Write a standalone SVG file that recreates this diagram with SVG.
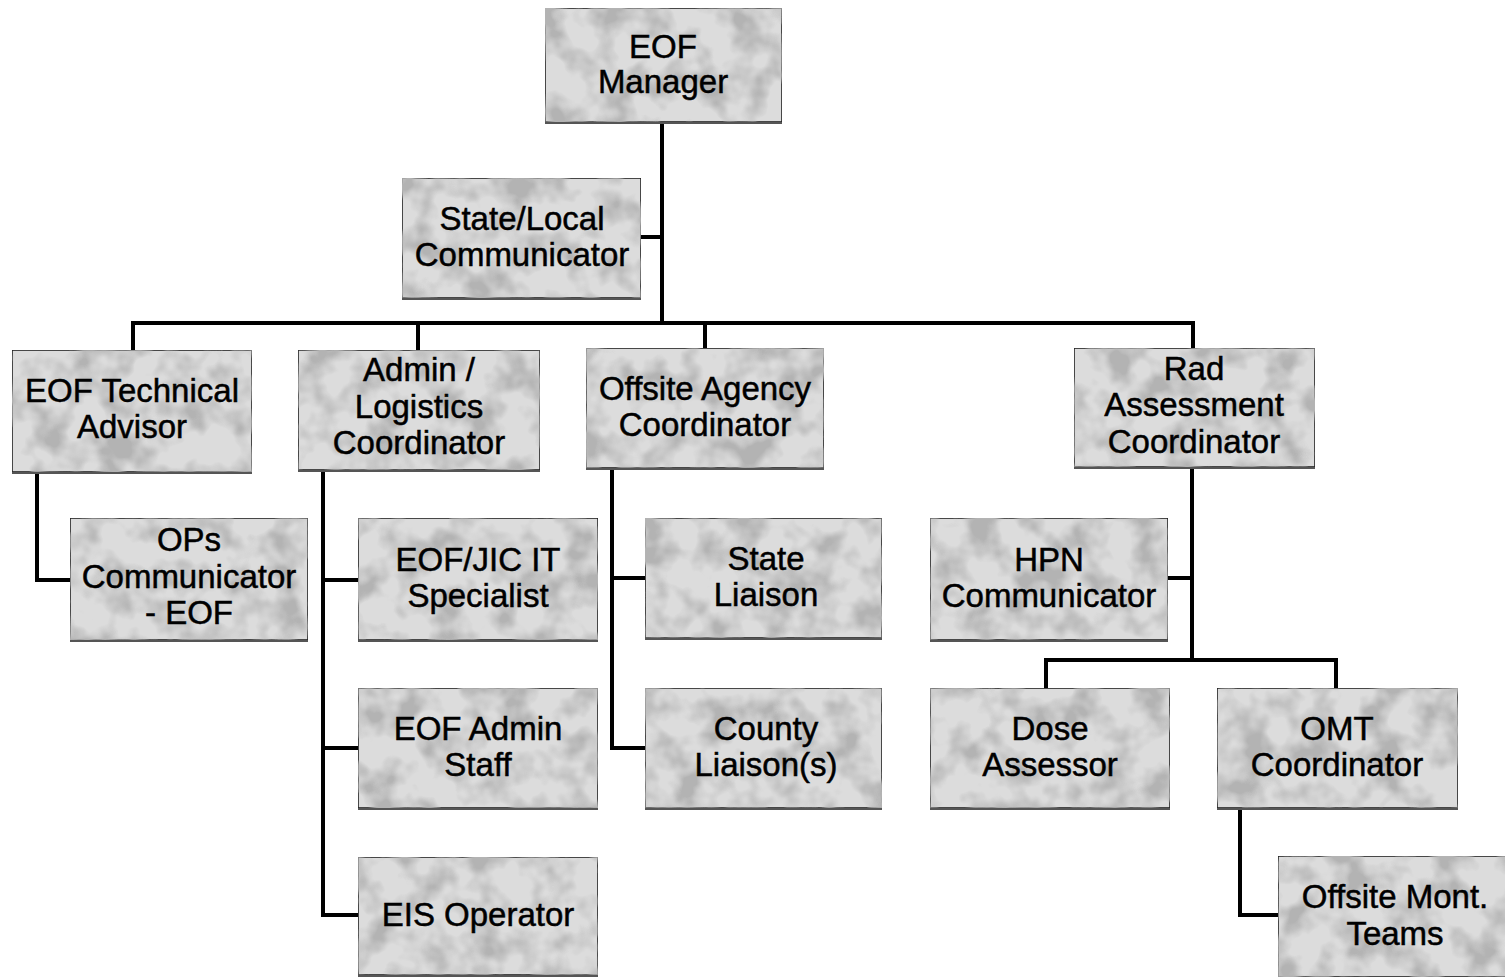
<svg xmlns="http://www.w3.org/2000/svg" width="1505" height="979" viewBox="0 0 1505 979">
  <defs>
    <!-- mottled grey fill for the position boxes -->
    <filter id="mottle" x="0" y="0" width="100%" height="100%">
      <feTurbulence type="fractalNoise" baseFrequency="0.03" numOctaves="3" seed="7" result="noise"/>
      <feColorMatrix in="noise" type="matrix" values="0 0 0 0 0.45  0 0 0 0 0.45  0 0 0 0 0.45  3.2 0 0 0 -1.35" result="blots"/>
      <feComposite in="blots" in2="SourceGraphic" operator="in" result="clipped"/>
      <feMerge>
        <feMergeNode in="SourceGraphic"/>
        <feMergeNode in="clipped"/>
      </feMerge>
    </filter>
    <style>
      .box { fill: #dcdcdc; stroke: #222; stroke-width: 1.6; filter: url(#mottle); }
      .shadow { stroke: #555; stroke-width: 2; fill: none; }
      .lbl { font-family: "Liberation Sans", Arial, sans-serif; font-size: 33px; fill: #000; stroke: #000; stroke-width: 0.5; text-anchor: middle; }
      .wire { fill: none; stroke: #000; stroke-width: 4; stroke-linejoin: miter; stroke-linecap: butt; }
    </style>
  </defs>

  <rect width="1505" height="979" fill="#fff"/>

  <g id="connectors">
    <path class="wire" d="M662 122 V323"/>
    <path class="wire" d="M641 237 H664"/>
    <path class="wire" d="M133 350 V323 H1193 V348"/>
    <path class="wire" d="M418 323 V350"/>
    <path class="wire" d="M705 323 V348"/>
    <path class="wire" d="M37 472 V580 H70"/>
    <path class="wire" d="M323 470 V915 H358"/>
    <path class="wire" d="M323 580 H358"/>
    <path class="wire" d="M323 748 H358"/>
    <path class="wire" d="M612 468 V748 H645"/>
    <path class="wire" d="M612 578 H645"/>
    <path class="wire" d="M1192 467 V660"/>
    <path class="wire" d="M1168 578 H1194"/>
    <path class="wire" d="M1046 688 V660 H1336 V688"/>
    <path class="wire" d="M1240 808 V915 H1278"/>
  </g>

  <g id="eof-manager">
    <rect class="box" x="545" y="8" width="237" height="114"/>
    <line class="shadow" x1="545" y1="123" x2="782" y2="123"/>
    <text class="lbl" x="663" y="58">EOF</text>
    <text class="lbl" x="663" y="93">Manager</text>
  </g>

  <g id="state-local-communicator">
    <rect class="box" x="402" y="178" width="239" height="120"/>
    <line class="shadow" x1="402" y1="299" x2="641" y2="299"/>
    <text class="lbl" x="522" y="230">State/Local</text>
    <text class="lbl" x="522" y="266">Communicator</text>
  </g>

  <g id="eof-technical-advisor">
    <rect class="box" x="12" y="350" width="240" height="122"/>
    <line class="shadow" x1="12" y1="473" x2="252" y2="473"/>
    <text class="lbl" x="132" y="402">EOF Technical</text>
    <text class="lbl" x="132" y="438">Advisor</text>
  </g>

  <g id="admin-logistics-coordinator">
    <rect class="box" x="298" y="350" width="242" height="120"/>
    <line class="shadow" x1="298" y1="471" x2="540" y2="471"/>
    <text class="lbl" x="419" y="381">Admin /</text>
    <text class="lbl" x="419" y="418">Logistics</text>
    <text class="lbl" x="419" y="454">Coordinator</text>
  </g>

  <g id="offsite-agency-coordinator">
    <rect class="box" x="586" y="348" width="238" height="120"/>
    <line class="shadow" x1="586" y1="469" x2="824" y2="469"/>
    <text class="lbl" x="705" y="400">Offsite Agency</text>
    <text class="lbl" x="705" y="436">Coordinator</text>
  </g>

  <g id="rad-assessment-coordinator">
    <rect class="box" x="1074" y="348" width="241" height="119"/>
    <line class="shadow" x1="1074" y1="468" x2="1315" y2="468"/>
    <text class="lbl" x="1194" y="380">Rad</text>
    <text class="lbl" x="1194" y="416">Assessment</text>
    <text class="lbl" x="1194" y="453">Coordinator</text>
  </g>

  <g id="ops-communicator">
    <rect class="box" x="70" y="518" width="238" height="122"/>
    <line class="shadow" x1="70" y1="641" x2="308" y2="641"/>
    <text class="lbl" x="189" y="551">OPs</text>
    <text class="lbl" x="189" y="588">Communicator</text>
    <text class="lbl" x="189" y="624">- EOF</text>
  </g>

  <g id="eof-jic-it-specialist">
    <rect class="box" x="358" y="518" width="240" height="122"/>
    <line class="shadow" x1="358" y1="641" x2="598" y2="641"/>
    <text class="lbl" x="478" y="571">EOF/JIC IT</text>
    <text class="lbl" x="478" y="607">Specialist</text>
  </g>

  <g id="eof-admin-staff">
    <rect class="box" x="358" y="688" width="240" height="120"/>
    <line class="shadow" x1="358" y1="809" x2="598" y2="809"/>
    <text class="lbl" x="478" y="740">EOF Admin</text>
    <text class="lbl" x="478" y="776">Staff</text>
  </g>

  <g id="eis-operator">
    <rect class="box" x="358" y="857" width="240" height="118"/>
    <line class="shadow" x1="358" y1="976" x2="598" y2="976"/>
    <text class="lbl" x="478" y="926">EIS Operator</text>
  </g>

  <g id="state-liaison">
    <rect class="box" x="645" y="518" width="237" height="120"/>
    <line class="shadow" x1="645" y1="639" x2="882" y2="639"/>
    <text class="lbl" x="766" y="570">State</text>
    <text class="lbl" x="766" y="606">Liaison</text>
  </g>

  <g id="county-liaison">
    <rect class="box" x="645" y="688" width="237" height="120"/>
    <line class="shadow" x1="645" y1="809" x2="882" y2="809"/>
    <text class="lbl" x="766" y="740">County</text>
    <text class="lbl" x="766" y="776">Liaison(s)</text>
  </g>

  <g id="hpn-communicator">
    <rect class="box" x="930" y="518" width="238" height="122"/>
    <line class="shadow" x1="930" y1="641" x2="1168" y2="641"/>
    <text class="lbl" x="1049" y="571">HPN</text>
    <text class="lbl" x="1049" y="607">Communicator</text>
  </g>

  <g id="dose-assessor">
    <rect class="box" x="930" y="688" width="240" height="120"/>
    <line class="shadow" x1="930" y1="809" x2="1170" y2="809"/>
    <text class="lbl" x="1050" y="740">Dose</text>
    <text class="lbl" x="1050" y="776">Assessor</text>
  </g>

  <g id="omt-coordinator">
    <rect class="box" x="1217" y="688" width="241" height="120"/>
    <line class="shadow" x1="1217" y1="809" x2="1458" y2="809"/>
    <text class="lbl" x="1337" y="740">OMT</text>
    <text class="lbl" x="1337" y="776">Coordinator</text>
  </g>

  <g id="offsite-mont-teams">
    <rect class="box" x="1278" y="856" width="240" height="121"/>
    <text class="lbl" x="1395" y="908">Offsite Mont.</text>
    <text class="lbl" x="1395" y="945">Teams</text>
  </g>
</svg>
